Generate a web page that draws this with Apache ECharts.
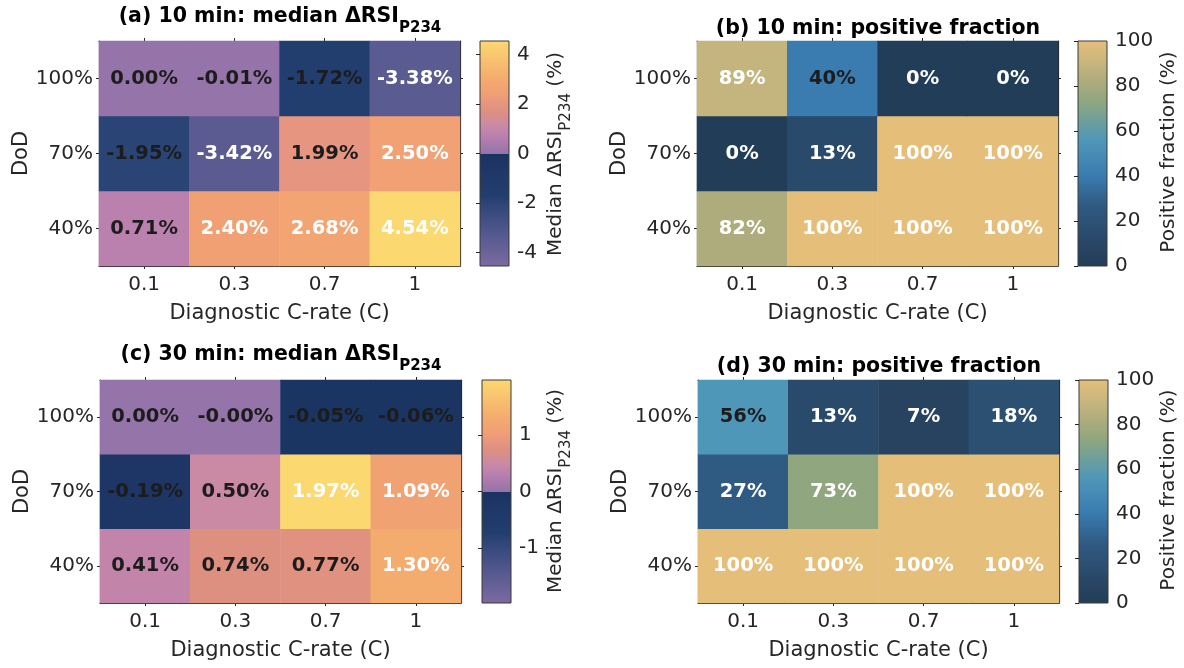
<!DOCTYPE html>
<html><head><meta charset="utf-8">
<script src="https://cdn.jsdelivr.net/npm/echarts@6/dist/echarts.min.js"></script>
<style>html,body{margin:0;padding:0;background:#fff}#c{width:1184px;height:668px}</style>
</head><body><div id="c"></div>
<script>
// ---------------- data ----------------
const cRates = ['0.1', '0.3', '0.7', '1'];
const dodLevels = ['40%', '70%', '100%'];          // bottom -> top
// rows follow dodLevels order (40%, 70%, 100%), columns follow cRates
const median10 = [[0.71, 2.40, 2.68, 4.54], [-1.95, -3.42, 1.99, 2.50], [0.00, -0.01, -1.72, -3.38]];
const positive10 = [[82, 100, 100, 100], [0, 13, 100, 100], [89, 40, 0, 0]];
const median30 = [[0.41, 0.74, 0.77, 1.30], [-0.19, 0.50, 1.97, 1.09], [0.00, -0.004, -0.05, -0.06]];
const positive30 = [[100, 100, 100, 100], [27, 73, 100, 100], [56, 13, 7, 18]];
const medianTicks10 = [-4, -2, 0, 2, 4];
const medianTicks30 = [-1, 0, 1];
const fractionTicks = [0, 20, 40, 60, 80, 100];

// ---------------- colour maps ----------------
function hexToRgb(h) { const n = parseInt(h.slice(1), 16); return [(n >> 16) & 255, (n >> 8) & 255, n & 255]; }
function rgbToHex(c) { return '#' + c.map(v => Math.round(v).toString(16).padStart(2, '0')).join(''); }
function interp(stops, s) {
  s = Math.max(0, Math.min(1, s));
  for (let i = 1; i < stops.length; i++) {
    if (s <= stops[i][0]) {
      const [s0, c0] = stops[i - 1], [s1, c1] = stops[i];
      const f = (s - s0) / ((s1 - s0) || 1);
      const a = hexToRgb(c0), b = hexToRgb(c1);
      return rgbToHex(a.map((v, k) => v + (b[k] - v) * f));
    }
  }
  return stops[stops.length - 1][1];
}
const NEG_STOPS = [[0, '#1a3461'], [0.1, '#1d3665'], [0.38, '#223e6e'], [0.43, '#2b4476'], [0.75, '#5a5b92'], [1, '#7c6aa0']];
const POS_STOPS = [[0, '#9474a9'], [0.16, '#bb80ae'], [0.25, '#c98aa5'], [0.38, '#df907f'], [0.44, '#e69580'], [0.53, '#f0a073'], [0.6, '#f2a572'], [0.66, '#f4ab6e'], [1, '#fcd870']];
const SEQ_STOPS = [[0, '#223d58'], [0.07, '#27435f'], [0.13, '#2a4a6b'], [0.18, '#2c5072'], [0.27, '#2f5a82'], [0.4, '#3a7bb0'], [0.56, '#4f97b8'], [0.65, '#6fa09a'], [0.73, '#8fa67f'], [0.82, '#aeac7d'], [0.89, '#c4b47e'], [1, '#e5be7a']];
const BREAK = 0.4965;
function divColor(t) {
  if (t < BREAK) return interp(NEG_STOPS, (0.5 - t) / 0.5);
  return interp(POS_STOPS, Math.max(0, (t - 0.5) / 0.5));
}
function seqColor(t) { return interp(SEQ_STOPS, t); }
function sample(fn, n) { const out = []; for (let i = 0; i < n; i++) out.push(fn(i / (n - 1))); return out; }
function gradient(fn, n) {
  const stops = [];
  for (let i = 0; i < n; i++) stops.push({ offset: i / (n - 1), color: fn(i / (n - 1)) });
  return { type: 'linear', x: 0, y: 1, x2: 0, y2: 0, colorStops: stops };
}

// ---------------- layout ----------------
const FONT = 'DejaVu Sans';
const AX = '#262626';
const panels = [
  { values: median10, kind: 'div', ticks: medianTicks10, letter: '(a) 10 min: median ΔRSI', sub: 'P234', cbTitle: 'median',
    plot: { left: 99, top: 41, width: 361, height: 225 }, bar: { left: 480, top: 41, width: 29, height: 225 },
    titleXY: [280, 6], cbXY: [558, 154] },
  { values: positive10, kind: 'seq', ticks: fractionTicks, letter: '(b) 10 min: positive fraction', sub: null, cbTitle: 'fraction',
    plot: { left: 697, top: 41, width: 361, height: 225 }, bar: { left: 1078, top: 41, width: 29, height: 225 },
    titleXY: [878, 29], cbXY: [1171, 152] },
  { values: median30, kind: 'div', ticks: medianTicks30, letter: '(c) 30 min: median ΔRSI', sub: 'P234', cbTitle: 'median',
    plot: { left: 100, top: 380, width: 361, height: 223 }, bar: { left: 482, top: 380, width: 29, height: 223 },
    titleXY: [281, 344], cbXY: [558, 491] },
  { values: positive30, kind: 'seq', ticks: fractionTicks, letter: '(d) 30 min: positive fraction', sub: null, cbTitle: 'fraction',
    plot: { left: 698, top: 380, width: 361, height: 223 }, bar: { left: 1079, top: 380, width: 29, height: 223 },
    titleXY: [879, 367], cbXY: [1171, 490] }
];

const grid = [], xAxis = [], yAxis = [], series = [], visualMap = [], graphic = [];

panels.forEach((p, i) => {
  const flat = p.values.flat();
  const lo = p.kind === 'div' ? -Math.max(...flat.map(Math.abs)) : 0;
  const hi = p.kind === 'div' ? Math.max(...flat.map(Math.abs)) : 100;
  const cfn = p.kind === 'div' ? divColor : seqColor;

  const gPlot = grid.length;
  grid.push(Object.assign({ containLabel: false, show: false }, p.plot));
  const gBar = grid.length;
  grid.push(Object.assign({ containLabel: false, show: true, borderColor: '#3a3a3a', borderWidth: 1,
    backgroundColor: gradient(cfn, 501) }, p.bar));

  const tickStyle = { show: true, alignWithLabel: true, inside: false, length: 3, lineStyle: { color: AX, width: 1 } };
  const lineStyle = { show: true, onZero: false, lineStyle: { color: AX, width: 1.2 } };

  const xb = xAxis.length;
  xAxis.push({ gridIndex: gPlot, type: 'category', data: cRates, position: 'bottom',
    name: 'Diagnostic C-rate (C)', nameLocation: 'middle', nameGap: 37,
    nameTextStyle: { fontSize: 21, color: AX, fontFamily: FONT },
    axisLine: lineStyle, axisTick: tickStyle,
    axisLabel: { fontSize: 20, color: AX, margin: 9, fontFamily: FONT }, splitLine: { show: false } });
  xAxis.push({ gridIndex: gPlot, type: 'category', data: cRates, position: 'top',
    axisLine: lineStyle, axisTick: tickStyle, axisLabel: { show: false }, splitLine: { show: false } });
  xAxis.push({ gridIndex: gBar, type: 'value', show: false, min: 0, max: 1 });

  const yl = yAxis.length;
  yAxis.push({ gridIndex: gPlot, type: 'category', data: dodLevels, position: 'left',
    name: 'DoD', nameLocation: 'middle', nameGap: 61,
    nameTextStyle: { fontSize: 21, color: AX, fontFamily: FONT },
    axisLine: lineStyle, axisTick: tickStyle,
    axisLabel: { fontSize: 20, color: AX, margin: 6, fontFamily: FONT }, splitLine: { show: false } });
  yAxis.push({ gridIndex: gPlot, type: 'category', data: dodLevels, position: 'right',
    axisLine: lineStyle, axisTick: tickStyle, axisLabel: { show: false }, splitLine: { show: false } });
  yAxis.push({ gridIndex: gBar, type: 'value', min: lo, max: hi, position: 'right',
    axisLine: { show: false },
    axisTick: { show: true, inside: true, length: 4, customValues: p.ticks, lineStyle: { color: AX } },
    axisLabel: { show: true, customValues: p.ticks, fontSize: 20, color: AX, margin: 8, fontFamily: FONT },
    splitLine: { show: false } });

  const data = [];
  p.values.forEach((row, r) => row.forEach((v, c) => data.push([c, r, v])));
  const sIdx = series.length;
  series.push({
    type: 'heatmap', xAxisIndex: xb, yAxisIndex: yl, data,
    itemStyle: { borderWidth: 0 },
    emphasis: { disabled: true },
    label: {
      show: true,
      formatter: (prm) => {
        const v = prm.value[2];
        const txt = p.kind === 'div' ? v.toFixed(2) + '%' : Math.round(v) + '%';
        const t = (v - lo) / (hi - lo);
        return Math.abs(t - 0.5) > 0.225 ? '{w|' + txt + '}' : '{k|' + txt + '}';
      },
      rich: {
        w: { color: '#ffffff', fontWeight: 'bold', fontSize: 19.5, fontFamily: FONT },
        k: { color: '#1c1c1c', fontWeight: 'bold', fontSize: 19.5, fontFamily: FONT }
      }
    }
  });
  visualMap.push({ type: 'continuous', show: false, seriesIndex: sIdx, dimension: 2, min: lo, max: hi,
    inRange: { color: sample(cfn, 1001) } });

  if (p.sub) {
    graphic.push({ type: 'text', x: p.titleXY[0], y: p.titleXY[1], silent: true,
      style: { text: '{m|' + p.letter + '}{s|' + p.sub + '}', align: 'center', verticalAlign: 'top',
        textAlign: 'center', textVerticalAlign: 'top',
        rich: {
          m: { fontSize: 20.5, fontWeight: 'bold', fontFamily: FONT, fill: '#000', lineHeight: 24, verticalAlign: 'top' },
          s: { fontSize: 15, fontWeight: 'bold', fontFamily: FONT, fill: '#000', lineHeight: 16, padding: [15, 0, 0, 0], verticalAlign: 'top' }
        } } });
  } else {
    graphic.push({ type: 'text', x: p.titleXY[0], y: p.titleXY[1], silent: true,
      style: { text: p.letter, align: 'center', verticalAlign: 'middle', textAlign: 'center', textVerticalAlign: 'middle',
        fontSize: 20.5, fontWeight: 'bold', fontFamily: FONT, fill: '#000' } });
  }
  const cbText = p.cbTitle === 'median' ? '{m|Median ΔRSI}{s|P234}{m| (%)}' : '{m|Positive fraction (%)}';
  graphic.push({ type: 'text', x: p.cbXY[0], y: p.cbXY[1], rotation: Math.PI / 2, silent: true,
    style: { text: cbText, align: 'center', verticalAlign: 'middle', textAlign: 'center', textVerticalAlign: 'middle',
      rich: {
        m: { fontSize: 20, fontFamily: FONT, fill: AX, lineHeight: 24, verticalAlign: 'top' },
        s: { fontSize: 15, fontFamily: FONT, fill: AX, lineHeight: 16, padding: [13, 0, 0, 0], verticalAlign: 'top' }
      } } });
});

const chart = echarts.init(document.getElementById('c'), null, { renderer: 'canvas' });
chart.setOption({
  animation: false,
  backgroundColor: '#ffffff',
  textStyle: { fontFamily: FONT },
  grid, xAxis, yAxis, series, visualMap, graphic
});
</script>
</body></html>
